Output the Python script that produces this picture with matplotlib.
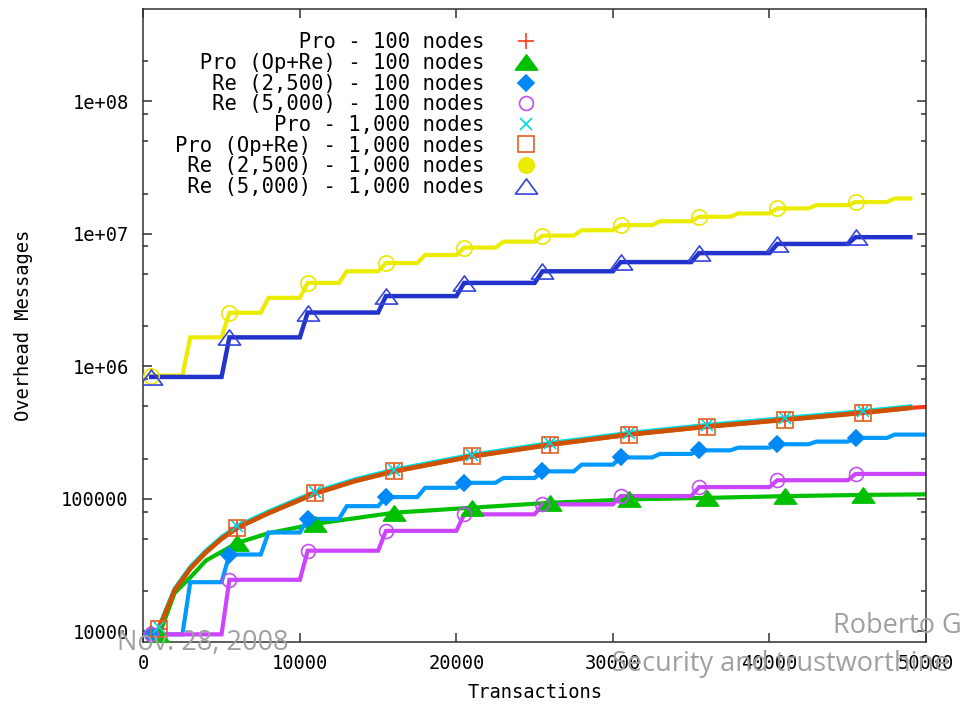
import numpy as np
import matplotlib
matplotlib.use("Agg")
import matplotlib.pyplot as plt
from matplotlib.lines import Line2D
from matplotlib.path import Path
from matplotlib.ticker import FixedLocator, FixedFormatter, LogLocator, NullFormatter

# ---------------- data ----------------
x_ticks = [0, 10000, 20000, 30000, 40000, 50000]
x_tick_labels = ["0", "10000", "20000", "30000", "40000", "50000"]
y_ticks = [1e4, 1e5, 1e6, 1e7, 1e8]
y_tick_labels = ["10000", "100000", "1e+06", "1e+07", "1e+08"]

series_labels = [
    "Pro - 100 nodes",
    "Pro (Op+Re) - 100 nodes",
    "Re (2,500) - 100 nodes",
    "Re (5,000) - 100 nodes",
    "Pro - 1,000 nodes",
    "Pro (Op+Re) - 1,000 nodes",
    "Re (2,500) - 1,000 nodes",
    "Re (5,000) - 1,000 nodes",
]

pro_x = [1000, 2000, 3000, 4000, 5000, 6000, 8000, 11000, 13500, 16000,
         21000, 26000, 31000, 36000, 41000, 46000, 49000, 50000]
pro_100 = [10500, 20400, 29800, 39500, 50000, 60500, 78000, 110000, 136000, 161000,
           209000, 256000, 305000, 350000, 395000, 446000, 485000, 494000]
pro_1000 = [10800, 21000, 30700, 40700, 51500, 62300, 80300, 113300, 140000, 165800,
            215000, 263500, 314000, 360500, 407000, 459000, 498000]
pro_opre_1000 = [10500, 20400, 29800, 39500, 50000, 60500, 78000, 110000, 136000, 161000,
                 209000, 256000, 305000, 350000, 395000, 446000, 485000]

pro_opre_100_x = [1000, 2000, 3000, 4000, 6000, 8000, 11000, 16000, 21000, 26000,
                  31000, 36000, 41000, 46000, 50000]
pro_opre_100 = [9300, 19500, 25500, 34200, 46500, 55000, 64800, 78500, 85700, 93300,
                98900, 101600, 104700, 107000, 108000]

# Reactive series: plateau levels between re-evaluation steps
re2500_100_levels = [9500, 23500, 38000, 55700, 70500, 88000, 103000, 121000, 132000, 143600,
                     161000, 181000, 205000, 218000, 232000, 243000, 258000, 270000, 288000, 305000]
re5000_100_levels = [9500, 24500, 40600, 57300, 76400, 90800, 104800, 122500, 138000, 154000]
re2500_1000_levels = [850000, 1650000, 2530000, 3280000, 4250000, 5200000, 6000000, 6900000,
                      7850000, 8700000, 9660000, 10600000, 11600000, 12400000, 13400000,
                      14200000, 15500000, 16400000, 17300000, 18400000]
re5000_1000_levels = [830000, 1650000, 2540000, 3380000, 4250000, 5200000, 6100000, 7130000,
                      8360000, 9400000]
re_sample = 500
re_end_100 = 50000
re_end_1000 = 49000

pro_marker_x = [1000, 6000, 11000, 16000, 21000, 26000, 31000, 36000, 41000, 46000]
re_marker_x = [500, 5500, 10500, 15500, 20500, 25500, 30500, 35500, 40500, 45500]


def stairs(levels, width, end):
    xs = list(range(re_sample, end + 1, re_sample))
    ys = [levels[(x - 1) // width] for x in xs]
    return xs, ys


# ---------------- figure ----------------
plt.rcParams["font.family"] = ["DejaVu Sans Mono"]
plt.rcParams["font.size"] = 13.5

fig = plt.figure(figsize=(9.6, 7.06), dpi=100)
ax = fig.add_axes([143.3 / 960, 64.3 / 706, 782.7 / 960, 632.4 / 706])

tri = Path([(0, 0.68), (-1, -0.68), (1, -0.68), (0, 0.68)],
           [Path.MOVETO, Path.LINETO, Path.LINETO, Path.CLOSEPOLY])

x1, y1 = stairs(re2500_100_levels, 2500, re_end_100)
x2, y2 = stairs(re5000_100_levels, 5000, re_end_100)
x3, y3 = stairs(re2500_1000_levels, 2500, re_end_1000)
x4, y4 = stairs(re5000_1000_levels, 5000, re_end_1000)

series = [
    # x, y, line color, lw, marker, size, face, edge, marker_x
    (pro_x, pro_100, "#ff3a1a", 3.0, "+", 12, "none", "#ff3a1a", pro_marker_x),
    (pro_opre_100_x, pro_opre_100, "#00c000", 3.0, tri, 16, "#00c000", "#00c000", pro_marker_x),
    (x1, y1, "#0099ff", 3.0, "D", 8.5, "#0088f5", "#0088f5", re_marker_x),
    (x2, y2, "#cc44ff", 3.0, "o", 10, "none", "#c050f0", re_marker_x),
    (pro_x[:-1], pro_1000, "#00e0e8", 3.0, "x", 9, "none", "#00d8e0", pro_marker_x),
    (pro_x[:-1], pro_opre_1000, "#cc5200", 3.4, "s", 12, "none", "#e06020", pro_marker_x),
    (x3, y3, "#ecec00", 3.0, "o", 11, "none", "#e8e800", re_marker_x),
    (x4, y4, "#2233cc", 3.2, tri, 16, "none", "#3344dd", re_marker_x),
]

for xs, ys, col, lw, *_ in series:
    ax.plot(xs, ys, color=col, lw=lw, solid_joinstyle="miter", zorder=2)

for xs, ys, col, lw, mk, ms, fc, ec, mx in series:
    idx = [i for i, v in enumerate(xs) if v in mx]
    ax.plot(xs, ys, linestyle="none", marker=mk, markersize=ms, markerfacecolor=fc,
            markeredgecolor=ec, markeredgewidth=1.2, markevery=idx, zorder=3)

ax.set_yscale("log")
ax.set_xlim(0, 50000)
ax.set_ylim(8360, 4.92e8)

ax.xaxis.set_major_locator(FixedLocator(x_ticks))
ax.xaxis.set_major_formatter(FixedFormatter(x_tick_labels))
ax.yaxis.set_major_locator(FixedLocator(y_ticks))
ax.yaxis.set_major_formatter(FixedFormatter(y_tick_labels))
ax.yaxis.set_minor_locator(LogLocator(base=10, subs=(2, 5, 8)))
ax.yaxis.set_minor_formatter(NullFormatter())

ax.tick_params(which="both", direction="in", top=True, right=True, color="#303030", width=1.1)
ax.tick_params(which="major", length=6.5)
ax.tick_params(which="minor", length=3.6)
ax.tick_params(axis="y", pad=10.5)
ax.tick_params(axis="x", pad=9)
for sp in ax.spines.values():
    sp.set_color("#303030")
    sp.set_linewidth(1.1)

ax.set_xlabel("Transactions", labelpad=7)
ax.set_ylabel("Overhead Messages", labelpad=20)

# legend (markers only, right-aligned labels)
maxlen = max(len(s) for s in series_labels)
handles = []
for (xs, ys, col, lw, mk, ms, fc, ec, mx), lab in zip(series, series_labels):
    handles.append(Line2D([], [], linestyle="none", marker=mk, markersize=ms,
                          markerfacecolor=fc, markeredgecolor=ec, markeredgewidth=1.2))
handles[6].set_markerfacecolor("#ecec00")
leg_fs = 14.8
leg = ax.legend(handles, [s.rjust(maxlen) for s in series_labels], loc="upper right",
                bbox_to_anchor=((538.5 - 143.3) / 782.7, (641.7 - 32.5) / 632.4),
                frameon=False, markerfirst=False, borderpad=0, borderaxespad=0,
                handlelength=1.2, handletextpad=1.45, labelspacing=0.03,
                prop={"family": "DejaVu Sans Mono", "size": leg_fs})

# slide footer overlay texts
foot = dict(color="#a0a0a0", fontsize=19.5, family=["Open Sans", "DejaVu Sans"], zorder=10)
fig.text(117 / 960, (706 - 650) / 706, "Nov. 28, 2008", va="baseline", **foot)
fig.text(833 / 960, (706 - 632.7) / 706, "Roberto G", va="baseline", **foot)
fig.text(612 / 960, (706 - 671) / 706, "Security and trustworthine", va="baseline", **foot)

fig.savefig("out.png", dpi=100)
